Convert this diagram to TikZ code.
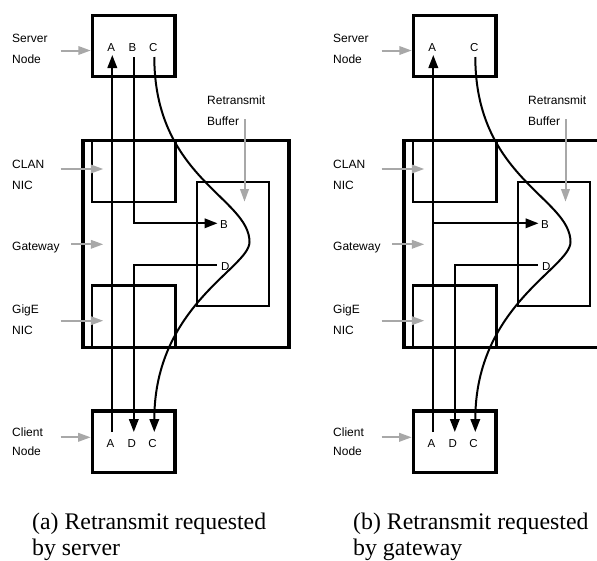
\documentclass[tikz,border=0pt]{standalone}
\usepackage{fontspec}
\setmainfont{Liberation Serif}
\newfontfamily\lblfont{Liberation Sans}
\usetikzlibrary{arrows.meta}
\definecolor{pointer}{RGB}{168,168,168}

% Boxes, side labels and grey pointers shared by both panels
\newcommand{\netframe}[1]{%
  % hosts
  \node[hostbox, minimum width=82.7, minimum height=60.6] (#1-srv) at (133.7,46) {};
  \node[hostbox, minimum width=82.7, minimum height=61.3] (#1-cli) at (133.65,441.65) {};
  % gateway and its parts
  \node[hostbox, minimum width=206, minimum height=207] (#1-gw) at (186,244.2) {};
  \node[partbox, minimum width=83.3, minimum height=60.7] (#1-clan) at (133.65,171.35) {};
  \node[partbox, minimum width=83.3, minimum height=62.4] (#1-gige) at (133.65,316.5) {};
  \node[partbox, minimum width=72, minimum height=124] (#1-buf) at (232.7,243.7) {};
  % side labels
  \node[lbl] (#1-l-srv1) at (12,42.5) {Server};
  \node[lbl] (#1-l-srv2) at (12,63.5) {Node};
  \node[lbl] (#1-l-clan1) at (12,168.3) {CLAN};
  \node[lbl] (#1-l-clan2) at (12,189) {NIC};
  \node[lbl] (#1-l-gw) at (12,250) {Gateway};
  \node[lbl] (#1-l-gige1) at (12,313.3) {GigE};
  \node[lbl] (#1-l-gige2) at (12,334) {NIC};
  \node[lbl] (#1-l-cli1) at (12,436.7) {Client};
  \node[lbl] (#1-l-cli2) at (12,455.7) {Node};
  \node[lbl] (#1-l-buf1) at (207,104.3) {Retransmit};
  \node[lbl] (#1-l-buf2) at (207,125) {Buffer};
  % grey pointers
  \coordinate (#1-p-srv) at (60.7,50.5);
  \coordinate (#1-p-clan) at (60.7,169);
  \coordinate (#1-p-clanE) at (103.3,169);
  \coordinate (#1-p-gw) at (71,244.3);
  \coordinate (#1-p-gwE) at (103.3,244.3);
  \coordinate (#1-p-gige) at (60.7,320.7);
  \coordinate (#1-p-gigeE) at (103.3,320.7);
  \coordinate (#1-p-cli) at (60.7,437.3);
  \coordinate (#1-p-buf) at (244.5,119);
  \coordinate (#1-p-bufE) at (244.5,201.7);
  \draw[pointer] (#1-p-srv) -- (#1-p-srv -| #1-srv.west);
  \draw[pointer] (#1-p-clan) -- (#1-p-clanE);
  \draw[pointer] (#1-p-gw) -- (#1-p-gwE);
  \draw[pointer] (#1-p-gige) -- (#1-p-gigeE);
  \draw[pointer] (#1-p-cli) -- (#1-p-cli -| #1-cli.west);
  \draw[pointer] (#1-p-buf) -- (#1-p-bufE);
  % buffer entries
  \node[tag] (#1-B) at (220,228.7) {B};
  \node[tag] (#1-D) at (221,270) {D};
}

\begin{document}
\begin{tikzpicture}[x=1pt, y=-1pt,
  hostbox/.style={draw, line width=3.2pt, inner sep=0pt, rectangle},
  partbox/.style={draw, line width=2.4pt, inner sep=0pt, rectangle},
  lbl/.style={anchor=base west, inner sep=0pt, font=\lblfont\fontsize{12}{14}\selectfont},
  tag/.style={anchor=base west, inner sep=0pt, font=\lblfont\fontsize{11.5}{13}\selectfont},
  pkt/.style={anchor=base, inner sep=0pt, font=\lblfont\fontsize{11.5}{13}\selectfont},
  caption/.style={anchor=base west, inner sep=0pt, font=\fontsize{23.8}{28}\selectfont},
  sig/.style={draw, line width=2pt},
  sigarrow/.style={sig, -{Triangle[length=13pt,width=9.5pt]}},
  pointer/.style={draw=pointer, line width=2pt, -{Triangle[length=12.5pt,width=8.5pt]}},
]
\path[use as bounding box] (0,0) rectangle (597,560);
\clip (0,0) rectangle (597,560);

% ---------- panel (a): retransmit requested by server ----------
\netframe{a}
\node[pkt] (a-sA) at (111.3,51.7) {A};
\node[pkt] (a-sB) at (132.5,51.7) {B};
\node[pkt] (a-sC) at (153.3,51.7) {C};
\node[pkt] (a-cA) at (110.5,447.3) {A};
\node[pkt] (a-cD) at (131.8,447.3) {D};
\node[pkt] (a-cC) at (152.6,447.3) {C};

\coordinate (a-Abot) at (112.3,432);
\coordinate (a-Atop) at (112.3,55);
\coordinate (a-Btop) at (133.8,57);
\coordinate (a-Bturn) at (133.8,223.3);
\coordinate (a-Bend) at (217.5,223.3);
\coordinate (a-Dstart) at (216.5,265);
\coordinate (a-Dturn) at (133.8,265);
\coordinate (a-Dend) at (133.8,432);
\coordinate (a-Ctop) at (154.3,57);
\coordinate (a-Cmid) at (249.5,242);
\coordinate (a-Cend) at (154.3,432);

\draw[sigarrow] (a-Abot) -- (a-Atop);
\draw[sigarrow] (a-Btop) -- (a-Bturn) -- (a-Bend);
\draw[sigarrow] (a-Dstart) -- (a-Dturn) -- (a-Dend);
\draw[sigarrow] (a-Ctop) .. controls (154.3,178) and (249.5,198) .. (a-Cmid)
                         .. controls (249.5,268) and (154.3,305) .. (a-Cend);

\node[caption] (a-cap1) at (32,529) {(a) Retransmit requested};
\node[caption] (a-cap2) at (32,555) {by server};

% ---------- panel (b): retransmit requested by gateway ----------
\begin{scope}[xshift=321pt]
\netframe{b}
\node[pkt] (b-sA) at (111.3,51.7) {A};
\node[pkt] (b-sC) at (153.3,51.7) {C};
\node[pkt] (b-cA) at (110.5,447.3) {A};
\node[pkt] (b-cD) at (131.8,447.3) {D};
\node[pkt] (b-cC) at (152.6,447.3) {C};

\coordinate (b-Abot) at (112.3,432);
\coordinate (b-Atop) at (112.3,55);
\coordinate (b-Bstart) at (112.3,223.3);
\coordinate (b-Bend) at (217.5,223.3);
\coordinate (b-Dstart) at (216.5,265);
\coordinate (b-Dturn) at (133.8,265);
\coordinate (b-Dend) at (133.8,432);
\coordinate (b-Ctop) at (154.3,57);
\coordinate (b-Cmid) at (249.5,242);
\coordinate (b-Cend) at (154.3,432);

\draw[sigarrow] (b-Abot) -- (b-Atop);
\draw[sigarrow] (b-Bstart) -- (b-Bend);
\draw[sigarrow] (b-Dstart) -- (b-Dturn) -- (b-Dend);
\draw[sigarrow] (b-Ctop) .. controls (154.3,178) and (249.5,198) .. (b-Cmid)
                         .. controls (249.5,268) and (154.3,305) .. (b-Cend);

\node[caption] (b-cap1) at (32,529) {(b) Retransmit requested};
\node[caption] (b-cap2) at (32,555) {by gateway};
\end{scope}
\end{tikzpicture}
\end{document}
